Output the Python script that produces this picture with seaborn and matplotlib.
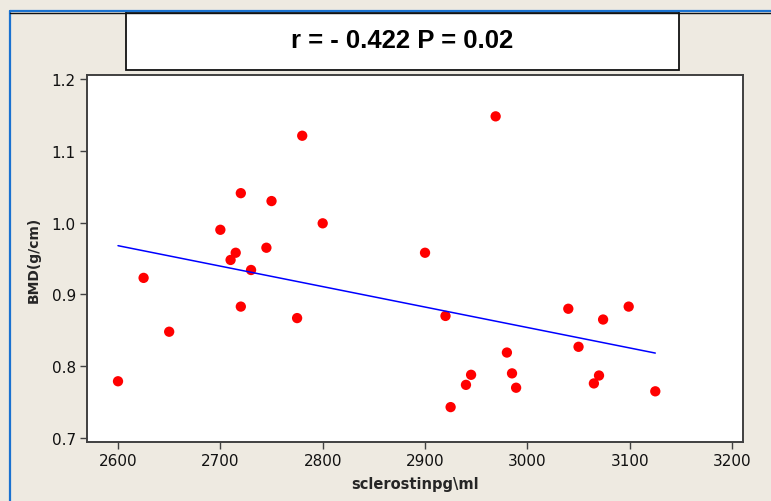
import numpy as np
import pandas as pd
import matplotlib
matplotlib.use("Agg")
import matplotlib.pyplot as plt
from matplotlib.patches import Rectangle
from matplotlib.lines import Line2D
import seaborn as sns

# values
sclerostin = [2600, 2625, 2650, 2700, 2710, 2715, 2720, 2720, 2730, 2745,
              2750, 2775, 2780, 2800, 2900, 2920, 2925, 2940, 2945, 2969,
              2980, 2985, 2989, 3040, 3050, 3065, 3070, 3074, 3099, 3125]
bmd = [0.779, 0.923, 0.848, 0.990, 0.948, 0.958, 1.041, 0.883, 0.934, 0.965,
       1.030, 0.867, 1.121, 0.999, 0.958, 0.870, 0.743, 0.774, 0.788, 1.148,
       0.819, 0.790, 0.770, 0.880, 0.827, 0.776, 0.787, 0.865, 0.883, 0.765]
x_ticks = [2600, 2700, 2800, 2900, 3000, 3100, 3200]
y_ticks = [0.7, 0.8, 0.9, 1.0, 1.1, 1.2]
title_text = "r = - 0.422 P = 0.02"

df = pd.DataFrame({"sclerostin": sclerostin, "bmd": bmd})

sns.set_style("white")
plt.rcParams["font.family"] = ["DejaVu Sans"]

bg = "#eeeae1"
fig = plt.figure(figsize=(7.71, 5.02), dpi=100, facecolor=bg)
ax = fig.add_axes([87 / 771, 59 / 502, 656 / 771, 367 / 502])

sns.regplot(data=df, x="sclerostin", y="bmd", ax=ax, ci=None,
            scatter_kws=dict(color="#ff0000", s=55, edgecolor="none", alpha=1),
            line_kws=dict(color="#0000ff", linewidth=1.1))

ax.set_xlim(2569.7, 3210.7)
ax.set_ylim(0.6944, 1.2056)
ax.set_xticks(x_ticks)
ax.set_yticks(y_ticks)
ax.set_yticklabels([f"{v:.1f}" for v in y_ticks])
ax.tick_params(axis="both", direction="out", length=5, width=1, color="#404040",
               labelsize=11, labelcolor="#111111", pad=3, left=True, bottom=True)
for s in ax.spines.values():
    s.set_color("#404040")
    s.set_linewidth(1.4)

ax.set_xlabel("sclerostinpg\\ml", fontsize=10.5, fontweight="bold", labelpad=6)
ax.set_ylabel("BMD(g/cm)", fontsize=10, fontweight="bold", labelpad=8)

# window border
fig.add_artist(Line2D([9.5 / 771, 9.5 / 771], [0, 1 - 11.5 / 502], color="#1a72d0", lw=1.6))
fig.add_artist(Line2D([9.5 / 771, 1], [1 - 11.5 / 502, 1 - 11.5 / 502], color="#1a72d0", lw=1.6))
fig.add_artist(Line2D([10 / 771, 1], [1 - 13.5 / 502, 1 - 13.5 / 502], color="#111111", lw=1.0))

# title box
fig.add_artist(Rectangle((126 / 771, 1 - 71 / 502), 553 / 771, 58 / 502,
                         transform=fig.transFigure, facecolor="white",
                         edgecolor="#111111", linewidth=1.3))
fig.text(402 / 771, 1 - 41 / 502, title_text, ha="center", va="center", color="black",
         fontsize=18.5, fontweight="bold", family=["Liberation Sans", "DejaVu Sans"])

fig.savefig("out.png", dpi=100, facecolor=bg)
